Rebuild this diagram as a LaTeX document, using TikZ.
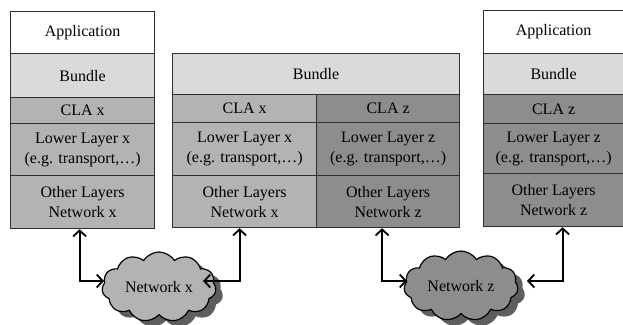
\documentclass[tikz,border=0pt]{standalone}
\usepackage{fontspec}
\setmainfont{Liberation Serif}
\usetikzlibrary{shapes.symbols,arrows.meta}
\definecolor{bundlegray}{HTML}{DADADA}
\definecolor{xgray}{HTML}{B3B3B3}
\definecolor{zgray}{HTML}{8D8D8D}
\definecolor{edgegray}{HTML}{303030}
\definecolor{shadowgray}{HTML}{5E5E5E}
\begin{document}
\begin{tikzpicture}[x=1pt,y=1pt,
  layer/.style={draw=edgegray, line width=1.2pt, rectangle, inner sep=0pt, anchor=north west,
    align=center, font=\fontsize{16}{20}\selectfont},
  netcloud/.style={cloud, cloud puffs=11, cloud puff arc=115, cloud ignores aspect, draw=black, line width=1.2pt,
    minimum width=114pt, minimum height=70pt, inner sep=0pt, font=\fontsize{16}{20}\selectfont},
  cloudshadow/.style={cloud, cloud puffs=11, cloud puff arc=115, cloud ignores aspect, fill=shadowgray,
    minimum width=114pt, minimum height=70pt, inner sep=0pt},
  link/.style={line width=1.8pt, {Straight Barb[length=6pt,width=13pt]}-{Straight Barb[length=6pt,width=13pt]}}
]
\useasboundingbox (0,0) rectangle (623,-324);
% left stack
\node[layer, fill=white, minimum width=144pt, minimum height=42pt] (app1) at (10,-11) {Application};
\node[layer, fill=bundlegray, minimum width=144pt, minimum height=44pt] (bun1) at (10,-53) {Bundle};
\node[layer, fill=xgray, minimum width=144pt, minimum height=26pt] (cla1) at (10,-97) {CLA x};
\node[layer, fill=xgray, minimum width=144pt, minimum height=52pt] (low1) at (10,-123) {Lower Layer x\\(e.g. transport,\dots)};
\node[layer, fill=xgray, minimum width=144pt, minimum height=53pt] (oth1) at (10,-175) {Other Layers\\Network x};
% middle stack
\node[layer, fill=bundlegray, minimum width=287pt, minimum height=41pt] (bun2) at (172,-53) {Bundle};
\node[layer, fill=xgray, minimum width=144pt, minimum height=28pt] (cla2x) at (172,-94) {CLA x};
\node[layer, fill=zgray, minimum width=143pt, minimum height=28pt] (cla2z) at (316,-94) {CLA z};
\node[layer, fill=xgray, minimum width=144pt, minimum height=53pt] (low2x) at (172,-122) {Lower Layer x\\(e.g. transport,\dots)};
\node[layer, fill=zgray, minimum width=143pt, minimum height=53pt] (low2z) at (316,-122) {Lower Layer z\\(e.g. transport,\dots)};
\node[layer, fill=xgray, minimum width=144pt, minimum height=52pt] (oth2x) at (172,-175) {Other Layers\\Network x};
\node[layer, fill=zgray, minimum width=143pt, minimum height=52pt] (oth2z) at (316,-175) {Other Layers\\Network z};
% right stack
\node[layer, fill=white, minimum width=140pt, minimum height=43pt] (app3) at (483,-10) {Application};
\node[layer, fill=bundlegray, minimum width=140pt, minimum height=41pt] (bun3) at (483,-53) {Bundle};
\node[layer, fill=zgray, minimum width=140pt, minimum height=29pt] (cla3) at (483,-94) {CLA z};
\node[layer, fill=zgray, minimum width=140pt, minimum height=50pt] (low3) at (483,-123) {Lower Layer z\\(e.g. transport,\dots)};
\node[layer, fill=zgray, minimum width=140pt, minimum height=53pt] (oth3) at (483,-173) {Other Layers\\Network z};
% clouds
\node[cloudshadow] (netxs) at (166,-293) {};
\node[netcloud, fill=xgray] (netx) at (159,-287) {Network x};
\node[cloudshadow] (netzs) at (468,-292) {};
\node[netcloud, fill=zgray] (netz) at (461,-286) {Network z};
% links
\coordinate (ax1) at ([xshift=-3pt]oth1.south);
\coordinate (ax2) at ([xshift=-5pt]oth2x.south);
\coordinate (az1) at ([xshift=-6pt]oth2z.south);
\coordinate (az2) at ([xshift=9pt]oth3.south);
\coordinate (tx1) at (104,-281);
\coordinate (tx2) at (203,-281);
\coordinate (tz1) at (407,-281);
\coordinate (tz2) at (527,-281);
\draw[link] (ax1) |- (tx1);
\draw[link] (ax2) |- (tx2);
\draw[link] (az1) |- (tz1);
\draw[link] (az2) |- (tz2);
\end{tikzpicture}
\end{document}
